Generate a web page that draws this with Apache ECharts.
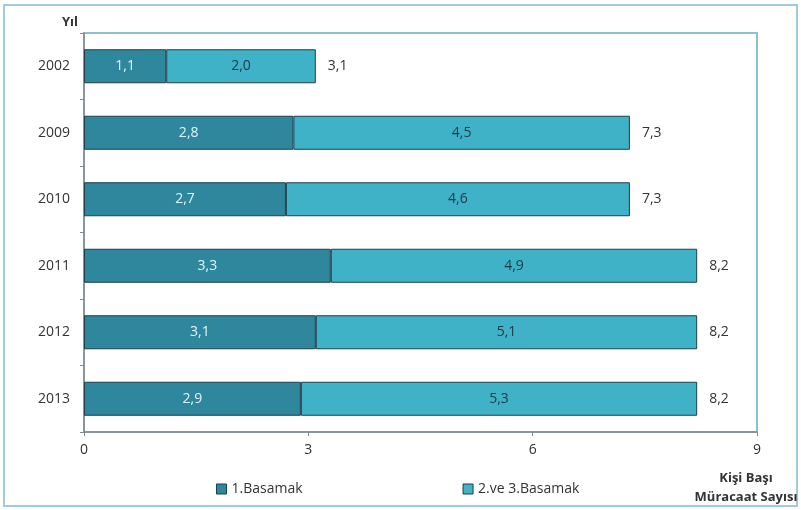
<!DOCTYPE html>
<html>
<head>
<meta charset="utf-8">
<script src="https://cdn.jsdelivr.net/npm/echarts@6/dist/echarts.min.js"></script>
<style>
  html, body { margin: 0; padding: 0; background: #fff; }
  #frame {
    position: absolute; left: 3px; top: 4px; width: 791px; height: 499px;
    border: 2px solid #9fcbdc;
  }
  #main { position: absolute; left: 0; top: 0; width: 801px; height: 510px; }
</style>
</head>
<body>
<div id="frame"></div>
<div id="main"></div>
<script>
// yıllar ve değerler
var years = ["2002", "2009", "2010", "2011", "2012", "2013"];
var basamak1 = [1.1, 2.8, 2.7, 3.3, 3.1, 2.9];
var basamak23 = [2.0, 4.5, 4.6, 4.9, 5.1, 5.3];
var toplam = [3.1, 7.3, 7.3, 8.2, 8.2, 8.2];
var xTicks = [0, 3, 6, 9];

var font = "'Open Sans', 'Liberation Sans', sans-serif";
var fmt = function (v) { return v.toFixed(1).replace(".", ","); };

var chart = echarts.init(document.getElementById("main"));
chart.setOption({
  animation: false,
  textStyle: { fontFamily: font },
  color: ["#2e879c", "#3fb2c8"],
  // x ekseni adı: iki satır, ortalı
  title: {
    text: "Kişi Başı\nMüracaat Sayısı",
    left: 746, top: 469, textAlign: "center",
    padding: 0,
    textStyle: { fontSize: 13, fontWeight: "bold", color: "#333", lineHeight: 19, fontFamily: font }
  },
  grid: {
    left: 84, right: 44, top: 33, bottom: 78,
    containLabel: false,
    outerBoundsMode: "none",
    show: true, borderColor: "#8fbfd2", borderWidth: 2, backgroundColor: "transparent"
  },
  legend: {
    top: 477, left: 211, itemGap: 160,
    itemWidth: 10, itemHeight: 10,
    icon: "rect",
    textStyle: { fontSize: 14, color: "#333", fontFamily: font },
    itemStyle: { borderColor: "#1d3f4a", borderWidth: 1 },
    data: ["1.Basamak", "2.ve 3.Basamak"]
  },
  xAxis: {
    type: "value",
    min: xTicks[0], max: xTicks[xTicks.length - 1], interval: 3,
    axisLine: { show: true, lineStyle: { color: "#888", width: 1.5 } },
    axisTick: { show: true, length: 4, lineStyle: { color: "#888" } },
    splitLine: { show: false },
    axisLabel: { fontSize: 14, color: "#333", margin: 11 }
  },
  yAxis: {
    type: "category",
    inverse: true,
    data: years,
    name: "Yıl",
    nameLocation: "start",
    nameGap: 4,
    nameTextStyle: { fontSize: 13, fontWeight: "bold", color: "#333", padding: [0, 28, 0, 0] },
    axisLine: { show: true, lineStyle: { color: "#888", width: 1.5 } },
    axisTick: { show: true, length: 4, lineStyle: { color: "#888" } },
    axisLabel: { fontSize: 14, color: "#333", margin: 14 }
  },
  series: [
    {
      name: "1.Basamak",
      type: "bar",
      stack: "t",
      barWidth: 34,
      data: basamak1,
      itemStyle: { borderColor: "#1d3f4a", borderWidth: 1 },
      label: {
        show: true, position: "inside", color: "#dff4f8", fontSize: 14,
        formatter: function (p) { return fmt(p.value); }
      }
    },
    {
      name: "2.ve 3.Basamak",
      type: "bar",
      stack: "t",
      barWidth: 34,
      data: basamak23,
      itemStyle: { borderColor: "#1d3f4a", borderWidth: 1 },
      label: {
        show: true, position: "inside", color: "#1e3a44", fontSize: 14,
        formatter: function (p) { return fmt(p.value); }
      }
    },
    {
      name: "Toplam",
      type: "bar",
      stack: "t",
      barWidth: 34,
      data: toplam.map(function () { return 0; }),
      itemStyle: { color: "transparent" },
      label: {
        show: true, position: "right", distance: 12, color: "#333", fontSize: 14,
        formatter: function (p) { return fmt(toplam[p.dataIndex]); }
      }
    }
  ]
});
</script>
</body>
</html>
